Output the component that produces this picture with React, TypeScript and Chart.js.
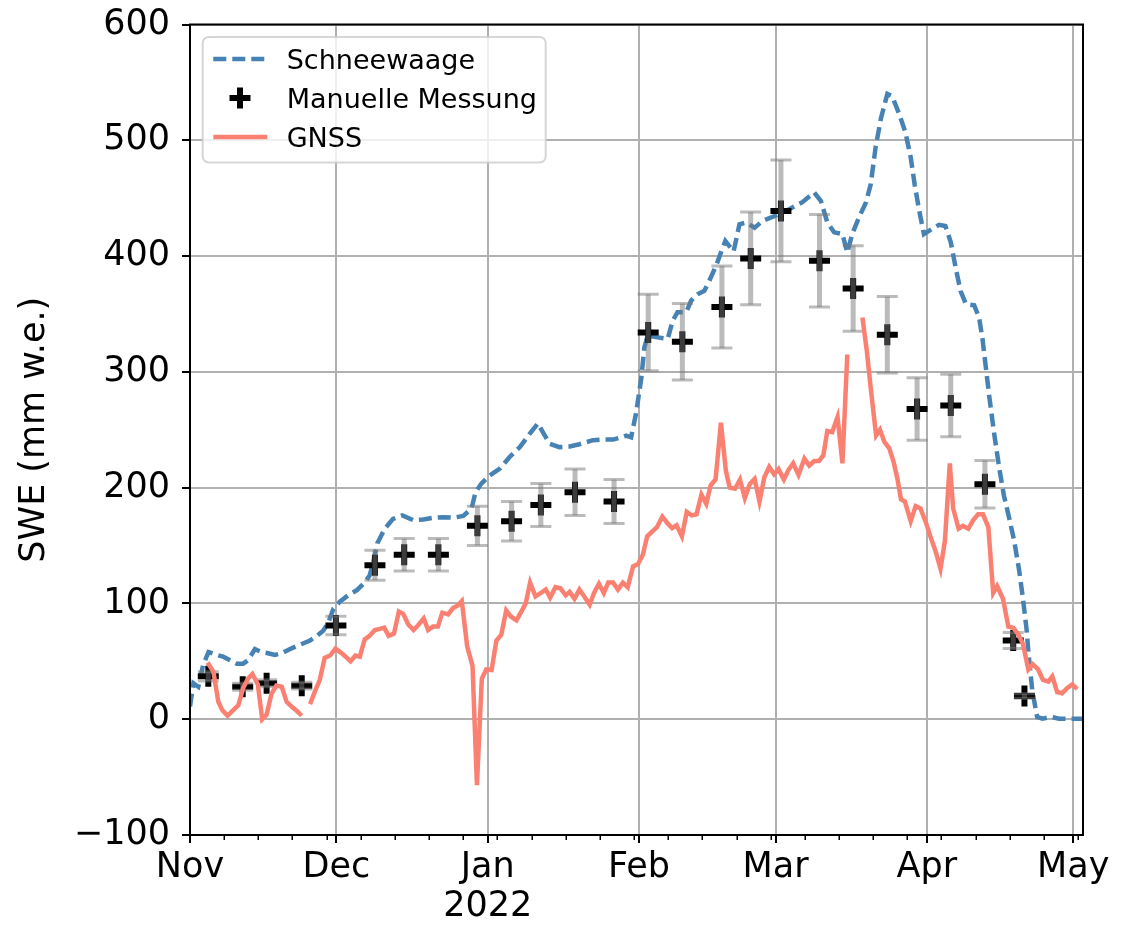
import React, { useEffect, useRef } from 'react';
import { Chart, registerables } from 'chart.js';

Chart.register(...registerables);

const FONT = "'DejaVu Sans', 'Liberation Sans', sans-serif";

// x values: days since 1 Nov 2021
const MONTH_TICKS = [0, 30, 61, 92, 120, 151, 181];
const MONTH_LABELS: (string | string[])[] = ['Nov', 'Dec', ['Jan', '2022'], 'Feb', 'Mar', 'Apr', 'May'];
const MINOR_TICKS = [0, 7, 14, 21, 28, 35, 42, 49, 56, 63, 70, 77, 84, 91, 98, 105, 112, 119, 126, 133, 140, 147, 154, 161, 168, 175, 182];
const Y_TICKS = [-100, 0, 100, 200, 300, 400, 500, 600];

// Schneewaage (snow scale)
const SCALE_DAYS = [
  0.0, 0.7, 1.7, 2.7, 3.8, 5.5, 6.8, 8.2, 9.6, 10.9, 11.9, 13.3, 14.7, 16.0, 17.4, 18.8, 20.2, 21.5, 22.9, 24.6,
  25.9, 27.3, 28.3, 29.4, 30.7, 32.4, 34.2, 35.8, 36.8, 37.5, 38.4, 39.9, 41.6, 43.5, 45.7, 47.8, 49.8, 51.9, 53.9, 56.0,
  57.7, 58.5, 59.7, 61.4, 63.5, 65.5, 67.6, 69.6, 71.3, 72.3, 73.7, 75.7, 77.8, 79.8, 82.6, 84.6, 86.7, 88.4, 89.4, 90.4,
  91.4, 92.5, 93.1, 93.8, 95.5, 97.9, 98.9, 99.9, 101.7, 102.7, 104.0, 105.4, 106.4, 107.8, 108.8, 109.7, 111.4, 112.6, 114.0, 115.7,
  117.4, 120.1, 122.8, 125.5, 127.9, 129.3, 130.6, 132.0, 133.7, 134.7, 135.7, 137.1, 138.5, 139.5, 140.5, 141.6, 142.9, 143.9, 145.3, 146.6,
  147.7, 148.5, 149.4, 150.4, 152.1, 153.5, 154.8, 155.9, 156.9, 157.9, 159.0, 160.7, 161.7, 162.4, 163.1, 163.8, 164.8, 165.8, 166.8, 167.8,
  168.9, 169.9, 170.7, 171.4, 171.9, 172.6, 173.6, 174.7, 176.4, 178.1, 180.1, 183.0,
];
const SCALE_SWE = [
  11, 31, 28, 47, 58, 55.5, 54, 51, 48, 48, 51, 60.5, 58, 57, 55.5, 57, 60, 62.5, 65, 68,
  71.5, 76.5, 83, 95.5, 101.5, 107, 111.5, 118, 124, 134.5, 152, 164.5, 173, 176, 172, 172.5, 174, 174.5, 174, 175.5,
  182, 196, 203.5, 210.5, 216.5, 226.5, 235, 246.5, 255.5, 248, 238, 235, 235.5, 237.5, 241, 241.5, 241.5, 243.5, 245, 243.5,
  264, 295, 321, 331.5, 330, 328.5, 344, 351.5, 351.5, 361.5, 367, 370, 378.5, 391.5, 403, 413, 404, 427.5, 429, 424.5,
  430.5, 435, 440.5, 446.5, 455, 447.5, 429, 420.5, 419, 403, 419, 433.5, 446, 462, 494, 519, 540, 538, 523, 507,
  485, 462, 440, 419, 423.5, 427, 426, 412, 390, 370, 358.5, 357.5, 347, 328.5, 303.5, 278.5, 246.5, 218, 193, 175,
  154, 129, 104, 79, 54, 25, 2, 0.5, 2, 0.5, 0.5, 0.5,
];

// GNSS (null = data gap)
const GNSS_DAYS = [
  3.6, 4.8, 5.8, 6.6, 7.7, 8.9, 9.9, 10.9, 11.9, 12.8, 13.9, 14.8, 15.7, 16.7, 17.7, 18.8, 19.8, 20.8, 21.8, 22.9,
  23.7,
  24.6, 25.6, 26.6, 27.6, 28.7, 29.8, 30.9, 31.9, 32.9, 33.9, 34.8, 35.8, 36.8, 37.9, 38.9, 39.8, 40.7, 41.8, 42.8, 43.7,
  44.7, 45.8, 46.7, 47.9, 48.8, 49.8, 50.8, 51.7, 52.9, 53.9, 54.8, 55.7, 56.8, 57.9, 58.8, 59.8, 60.7, 61.8, 62.8, 63.8,
  64.8, 65.8, 66.9, 67.9, 68.8, 69.7, 70.8, 71.9, 72.9, 73.8, 74.9, 75.9, 77.0, 77.8, 78.8, 79.8, 80.8, 81.9, 82.8, 83.8,
  84.8, 85.7, 86.7, 87.7, 88.7, 89.7, 90.8, 91.8, 92.8, 93.7, 94.7, 95.7, 96.8, 97.8, 98.8, 99.7, 100.8, 101.8, 102.8, 103.8,
  104.8, 105.8, 106.7, 107.7, 108.8, 109.8, 110.6, 111.7, 112.7, 113.7, 114.7, 115.7, 116.7, 117.7, 118.7, 119.7, 120.6, 121.7, 122.6, 123.6,
  124.7, 125.9, 126.9, 127.9, 128.9, 129.8, 130.6, 131.6, 132.7, 133.7, 134.7,
  136.2,
  137.8, 138.7, 139.5, 140.6, 141.4, 142.3, 143.3, 144.2, 145.0, 145.7, 146.5, 147.7, 148.7, 149.7, 150.8, 151.8, 152.8, 153.8, 154.7, 155.7,
  156.4, 157.5, 158.4, 159.5, 160.5, 161.5, 162.5, 163.6, 164.6, 165.4, 166.6, 167.7, 168.7, 169.7, 170.7, 171.8, 172.7, 173.8, 174.8, 175.9,
  176.7, 177.7, 178.7, 179.8, 180.8, 181.8,
];
const GNSS_SWE: (number | null)[] = [
  49, 41, 15, 8, 3, 8, 12, 27, 35, 39, 30, 0, 4, 22, 29, 28, 15, 11, 7.5, 3,
  null,
  13, 24, 34, 53, 55, 61, 57.5, 54, 50, 55, 54, 69, 72, 77, 78, 79, 72, 74, 93, 91,
  82, 77, 81, 87, 77, 80, 80, 92, 90.5, 96, 98, 102, 63, 46, -57, 35, 43, 42.5, 68, 73,
  94, 88.5, 85.5, 93, 100, 118, 106, 109, 112, 105, 114, 113, 107, 110, 104, 112, 106, 99, 109, 117,
  109, 118, 118, 112, 118, 114, 132, 134, 142, 158, 162, 166, 175, 169.5, 165, 167.5, 158, 179, 176, 177,
  194, 186, 202, 207, 256, 215, 200, 199, 207, 191, 203, 207.5, 188, 209, 218, 211.5, 216, 207, 215, 221,
  211, 225, 219, 223, 223, 228, 249, 248, 261, 221, 315,
  null,
  347, 318, 286, 245, 250, 239.5, 234, 222, 207, 190, 188, 171, 184, 182, 170, 157, 145, 130, 154, 221,
  182, 164.5, 167, 164.5, 172, 177, 177, 166, 109, 115, 104, 80, 79, 73.5, 65, 43, 47.5, 43, 34, 32.5,
  37, 23.5, 22.5, 27, 30, 26,
];

// Manuelle Messung (manual measurements) with uncertainty
const MANUAL_DAYS = [3.75, 10.8, 15.7, 22.9, 29.9, 37.9, 43.9, 50.9, 58.9, 65.9, 71.9, 78.9, 86.9, 93.9, 100.9, 109.0, 114.9, 121.1, 129.0, 135.9, 142.9, 149.0, 155.9, 162.9, 168.7, 171.0];
const MANUAL_SWE = [37, 28, 31, 29, 81, 133, 142, 142, 167, 171, 185, 196, 188, 334, 326, 356, 398, 439, 396, 372, 332, 268, 271, 203, 68, 20];
const MANUAL_ERR = [4, 3, 3, 3, 8, 13, 14, 14, 17, 17, 18.5, 20, 19, 33, 33, 35.5, 40, 44, 40, 37, 33, 27, 27, 20.5, 7, 2];

const SCALE_COLOR = '#4682B4';
const GNSS_COLOR = '#FA8072';
const LINE_W = 4.5;

const errorBarPlugin = {
  id: 'errorBars',
  afterDatasetDraw(chart: any, args: any) {
    if (args.index !== 1) return;
    const { ctx, scales } = chart;
    const xs = scales.x;
    const ys = scales.y;
    ctx.save();
    ctx.strokeStyle = 'rgba(120,120,120,0.5)';
    ctx.lineCap = 'butt';
    for (let i = 0; i < MANUAL_DAYS.length; i++) {
      const px = xs.getPixelForValue(MANUAL_DAYS[i]);
      const pTop = ys.getPixelForValue(MANUAL_SWE[i] + MANUAL_ERR[i]);
      const pBot = ys.getPixelForValue(MANUAL_SWE[i] - MANUAL_ERR[i]);
      ctx.lineWidth = 5;
      ctx.beginPath();
      ctx.moveTo(px, pTop);
      ctx.lineTo(px, pBot);
      ctx.stroke();
      ctx.lineWidth = 3;
      ctx.beginPath();
      ctx.moveTo(px - 10.5, pTop);
      ctx.lineTo(px + 10.5, pTop);
      ctx.moveTo(px - 10.5, pBot);
      ctx.lineTo(px + 10.5, pBot);
      ctx.stroke();
    }
    ctx.restore();
  },
};

const framePlugin = {
  id: 'frameAndMinor',
  afterDatasetsDraw(chart: any) {
    const { ctx, chartArea, scales } = chart;
    const { left, right, top, bottom } = chartArea;
    ctx.save();
    ctx.strokeStyle = '#000';
    ctx.lineWidth = 2;
    ctx.strokeRect(left, top, right - left, bottom - top);
    ctx.lineWidth = 1.5;
    ctx.beginPath();
    for (const d of MINOR_TICKS) {
      if (MONTH_TICKS.includes(d)) continue;
      const px = Math.round(scales.x.getPixelForValue(d)) + 0.25;
      ctx.moveTo(px, bottom);
      ctx.lineTo(px, bottom + 5);
    }
    ctx.stroke();
    ctx.restore();
  },
};

const legendPlugin = {
  id: 'boxLegend',
  afterDraw(chart: any) {
    const { ctx, chartArea } = chart;
    const x0 = chartArea.left + 12.7;
    const y0 = chartArea.top + 12.5;
    const w = 343;
    const h = 125.5;
    const r = 6;
    ctx.save();
    ctx.beginPath();
    ctx.moveTo(x0 + r, y0);
    ctx.lineTo(x0 + w - r, y0);
    ctx.arcTo(x0 + w, y0, x0 + w, y0 + r, r);
    ctx.lineTo(x0 + w, y0 + h - r);
    ctx.arcTo(x0 + w, y0 + h, x0 + w - r, y0 + h, r);
    ctx.lineTo(x0 + r, y0 + h);
    ctx.arcTo(x0, y0 + h, x0, y0 + h - r, r);
    ctx.lineTo(x0, y0 + r);
    ctx.arcTo(x0, y0, x0 + r, y0, r);
    ctx.closePath();
    ctx.fillStyle = 'rgba(255,255,255,0.8)';
    ctx.fill();
    ctx.strokeStyle = 'rgba(204,204,204,0.8)';
    ctx.lineWidth = 2;
    ctx.stroke();

    const rows = [22, 61, 100];
    const labels = ['Schneewaage', 'Manuelle Messung', 'GNSS'];
    ctx.lineCap = 'butt';
    ctx.strokeStyle = SCALE_COLOR;
    ctx.lineWidth = LINE_W;
    ctx.setLineDash([13, 6]);
    ctx.beginPath();
    ctx.moveTo(x0 + 10.6, y0 + rows[0]);
    ctx.lineTo(x0 + 64.6, y0 + rows[0]);
    ctx.stroke();
    ctx.setLineDash([]);
    ctx.strokeStyle = '#000';
    ctx.lineWidth = 6;
    ctx.beginPath();
    const cx = x0 + 37.3;
    const cy = y0 + rows[1];
    ctx.moveTo(cx - 10.5, cy);
    ctx.lineTo(cx + 10.5, cy);
    ctx.moveTo(cx, cy - 10.5);
    ctx.lineTo(cx, cy + 10.5);
    ctx.stroke();
    ctx.strokeStyle = GNSS_COLOR;
    ctx.lineWidth = LINE_W;
    ctx.beginPath();
    ctx.moveTo(x0 + 10.6, y0 + rows[2]);
    ctx.lineTo(x0 + 64.6, y0 + rows[2]);
    ctx.stroke();
    ctx.fillStyle = '#000';
    ctx.font = `27px ${FONT}`;
    ctx.textBaseline = 'alphabetic';
    ctx.textAlign = 'left';
    for (let i = 0; i < labels.length; i++) {
      ctx.fillText(labels[i], x0 + 84, y0 + rows[i] + 9.8);
    }
    ctx.restore();
  },
};

export default function App() {
  const canvasRef = useRef<HTMLCanvasElement | null>(null);

  useEffect(() => {
    const canvas = canvasRef.current;
    if (!canvas) return;
    const chart = new Chart(canvas, {
      type: 'line',
      data: {
        datasets: [
          {
            label: 'Schneewaage',
            data: SCALE_DAYS.map((d, i) => ({ x: d, y: SCALE_SWE[i] })),
            borderColor: SCALE_COLOR,
            borderWidth: LINE_W,
            borderDash: [13, 6],
            pointRadius: 0,
            tension: 0,
            fill: false,
            order: 3,
          },
          {
            label: 'Manuelle Messung',
            data: MANUAL_DAYS.map((d, i) => ({ x: d, y: MANUAL_SWE[i] })),
            showLine: false,
            pointStyle: 'cross',
            pointRadius: 10.5,
            pointBorderWidth: 6,
            pointBorderColor: '#000',
            pointBackgroundColor: '#000',
            borderColor: '#000',
            order: 2,
          },
          {
            label: 'GNSS',
            data: GNSS_DAYS.map((d, i) => ({ x: d, y: GNSS_SWE[i] })),
            borderColor: GNSS_COLOR,
            borderWidth: LINE_W,
            pointRadius: 0,
            tension: 0,
            spanGaps: false,
            fill: false,
            order: 1,
          },
        ],
      },
      options: {
        responsive: false,
        animation: false,
        devicePixelRatio: 1,
        layout: { padding: { left: 0, right: 37, top: 15, bottom: 0 } },
        plugins: {
          legend: { display: false },
          tooltip: { enabled: false },
        },
        scales: {
          x: {
            type: 'linear',
            min: 0,
            max: 183,
            afterBuildTicks: (s: any) => {
              s.ticks = MONTH_TICKS.map((v) => ({ value: v }));
            },
            afterFit: (s: any) => {
              s.height = 84;
              s.paddingLeft = 0;
              s.paddingRight = 0;
            },
            ticks: {
              autoSkip: false,
              maxRotation: 0,
              minRotation: 0,
              padding: 6,
              color: '#000',
              font: { family: FONT, size: 35, lineHeight: 1.1 },
              callback: (v: any) => {
                const i = MONTH_TICKS.indexOf(Number(v));
                return i >= 0 ? MONTH_LABELS[i] : '';
              },
            },
            grid: { color: '#b0b0b0', lineWidth: 2, tickColor: '#000', tickLength: 8, tickWidth: 2 },
            border: { display: true, color: '#000', width: 2 },
          },
          y: {
            type: 'linear',
            min: -100,
            max: 600,
            afterBuildTicks: (s: any) => {
              s.ticks = Y_TICKS.map((v) => ({ value: v }));
            },
            afterFit: (s: any) => {
              s.width = 182;
              s.paddingTop = 0;
              s.paddingBottom = 0;
            },
            ticks: {
              padding: 12,
              color: '#000',
              font: { family: FONT, size: 35, lineHeight: 1.2 },
              callback: (v: any) => (Number(v) < 0 ? '\u2212' + Math.abs(Number(v)) : String(v)),
            },
            grid: { color: '#b0b0b0', lineWidth: 2, tickColor: '#000', tickLength: 8, tickWidth: 2 },
            border: { display: true, color: '#000', width: 2 },
            title: {
              display: true,
              text: 'SWE (mm w.e.)',
              color: '#000',
              font: { family: FONT, size: 35, lineHeight: 1.2 },
              padding: { top: 6, bottom: 0 },
            },
          },
        },
      },
      plugins: [errorBarPlugin, framePlugin, legendPlugin],
    });
    return () => chart.destroy();
  }, []);

  return (
    <div style={{ width: 1112, height: 911 }}>
      <canvas ref={canvasRef} width={1112} height={911} style={{ display: 'block', width: 1112, height: 911 }} />
    </div>
  );
}
